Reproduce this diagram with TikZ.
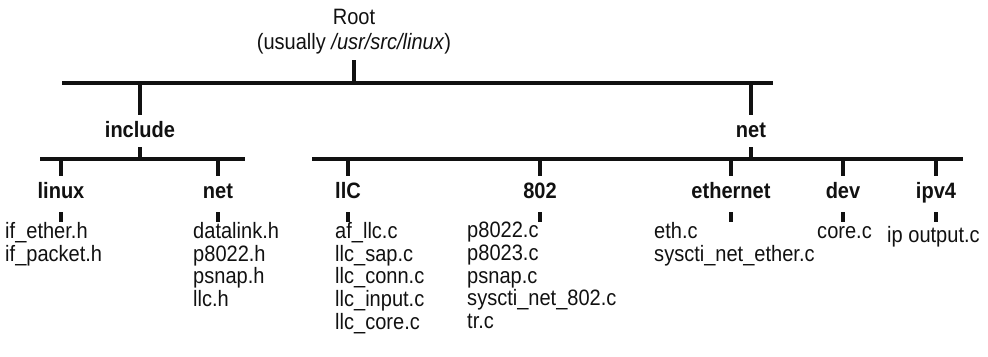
\documentclass[tikz,border=0pt]{standalone}
\usepackage{fontspec}
\setmainfont{Liberation Sans}[FakeStretch=0.9]
\usepackage{tikz}
\usetikzlibrary{calc}
\usepackage{xcolor}
\definecolor{TrL}{HTML}{111111}
\tikzset{
  BAR/.style={
    draw=TrL, line width=3pt
  },
  DIR/.style={
    font=\fontsize{19}{21}\selectfont\bfseries, text=TrL,
    inner sep=0pt, anchor=base,
    text height=6.6mm, text depth=#1
  },
  FIL/.style={
    font=\fontsize{19}{19.4}\selectfont, text=TrL,
    inner sep=0pt, anchor=north west, align=left
  },
}

\begin{document}
\begin{tikzpicture}[x=0.3mm,y=-0.3mm]
\useasboundingbox (0,0) rectangle (988,356);

%================ ROOT =================
\node[font=\fontsize{19}{21.3}\selectfont, text=TrL, align=center,
inner xsep=0pt, inner ysep=1.8mm, anchor=south]
(root) at (354,60) {Root\\(usually \textit{/usr/src/linux})};

\coordinate (topW) at (62,83);
\coordinate (topE) at (773,83);
\draw[BAR] (topW)--(topE);
\draw[BAR] (root.south)--(root.south|-topW);

%================ SECOND LEVEL =================
\node[DIR=3mm] (incl) at (140,137) {include};
\node[DIR=3mm] (net)  at (751,137) {net};

\draw[BAR] (incl.north|-topW)--(incl.north);
\draw[BAR] (net.north|-topW)--(net.north);

\coordinate (inW) at (40,159);
\coordinate (inE) at (245,159);
\coordinate (ntW) at (312,159);
\coordinate (ntE) at (963,159);
\draw[BAR] (inW)--(inE);
\draw[BAR] (ntW)--(ntE);
\draw[BAR] (incl.south)--(incl.south|-inW);
\draw[BAR] (net.south)--(net.south|-ntW);

%================ THIRD LEVEL =================
\node[DIR=4.2mm] (lnx)  at (61,198)  {linux};
\node[DIR=4.2mm] (inet) at (218,198) {net};
\node[DIR=4.2mm] (llc)  at (348,198) {llC};
\node[DIR=4.2mm] (ieee) at (540,198) {802};
\node[DIR=4.2mm] (eth)  at (731,198) {ethernet};
\node[DIR=4.2mm] (dev)  at (843,198) {dev};
\node[DIR=4.2mm] (ipv)  at (936,198) {ipv4};

\foreach \d in {lnx,inet} \draw[BAR] (\d.north|-inW)--(\d.north);
\foreach \d in {llc,ieee,eth,dev,ipv} \draw[BAR] (\d.north|-ntW)--(\d.north);

%================ FILES =================
\node[FIL] (flnx)  at (5,222)   {if\_ether.h\\if\_packet.h};
\node[FIL] (finet) at (193,222) {datalink.h\\p8022.h\\psnap.h\\llc.h};
\node[FIL] (fllc)  at (335,222) {af\_llc.c\\llc\_sap.c\\llc\_conn.c\\llc\_input.c\\llc\_core.c};
\node[FIL] (fieee) at (467,222) {p8022.c\\p8023.c\\psnap.c\\syscti\_net\_802.c\\tr.c};
\node[FIL] (feth)  at (654,222) {eth.c\\syscti\_net\_ether.c};
\node[FIL] (fdev)  at (817,226) {core.c};
\node[FIL] (fipv)  at (887,226) {ip output.c};

\foreach \d in {lnx,inet,llc,ieee,eth,dev,ipv}
  \draw[BAR] (\d.south)--(\d.south|-flnx.north);

\end{tikzpicture}
\end{document}
